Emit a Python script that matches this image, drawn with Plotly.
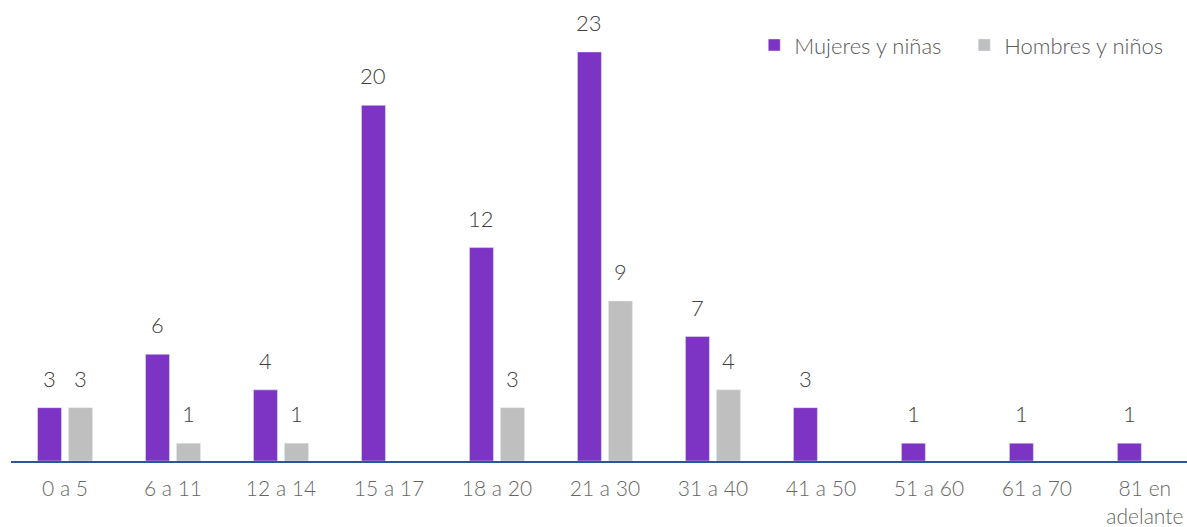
import plotly.graph_objects as go

categories = ["0 a 5", "6 a 11", "12 a 14", "15 a 17", "18 a 20", "21 a 30",
              "31 a 40", "41 a 50", "51 a 60", "61 a 70", "81 en<br>adelante"]
mujeres = [3, 6, 4, 20, 12, 23, 7, 3, 1, 1, 1]
hombres = [3, 1, 1, None, 3, 9, 4, None, None, None, None]

PURPLE = "#7D33C4"
GRAY = "#BFBFBF"
FONT = "Lato"

fig = go.Figure()
fig.add_trace(go.Bar(name="Mujeres y niñas", x=list(range(len(categories))), y=mujeres,
                     marker_color=PURPLE))
fig.add_trace(go.Bar(name="Hombres y niños", x=list(range(len(categories))), y=hombres,
                     marker_color=GRAY))

# value labels above each bar
annotations = []
for series, shift in ((mujeres, -15.5), (hombres, 15.5)):
    for i, v in enumerate(series):
        if v is None:
            continue
        annotations.append(dict(x=i, y=v, xref="x", yref="y", text=str(v),
                                showarrow=False, xshift=shift, yshift=14,
                                yanchor="bottom",
                                font=dict(family=FONT, size=22, color="#404040", weight=300)))

fig.update_layout(
    width=1187, height=527,
    margin=dict(l=10.5, r=0, t=10, b=66, autoexpand=False),
    paper_bgcolor="white", plot_bgcolor="white",
    barmode="group", bargap=0.426, bargroupgap=0.226,
    font=dict(family=FONT, size=22, color="#666666", weight=300),
    legend=dict(orientation="h", x=0.632, xanchor="left", y=0.922, yanchor="middle",
                font=dict(size=22, color="#595959"), entrywidth=165,
                itemwidth=30, traceorder="normal"),
    annotations=annotations,
    xaxis=dict(range=[-0.5, 10.39], tickmode="array",
               tickvals=list(range(len(categories))), ticktext=categories,
               showgrid=False, showline=True, linecolor="#2F5597", linewidth=2,
               ticks="", zeroline=False, ticklabelstandoff=8,
               tickfont=dict(size=21, color="#666666")),
    yaxis=dict(range=[0, 25.36], visible=False, showgrid=False, zeroline=False),
)

fig.write_html("out.html")
